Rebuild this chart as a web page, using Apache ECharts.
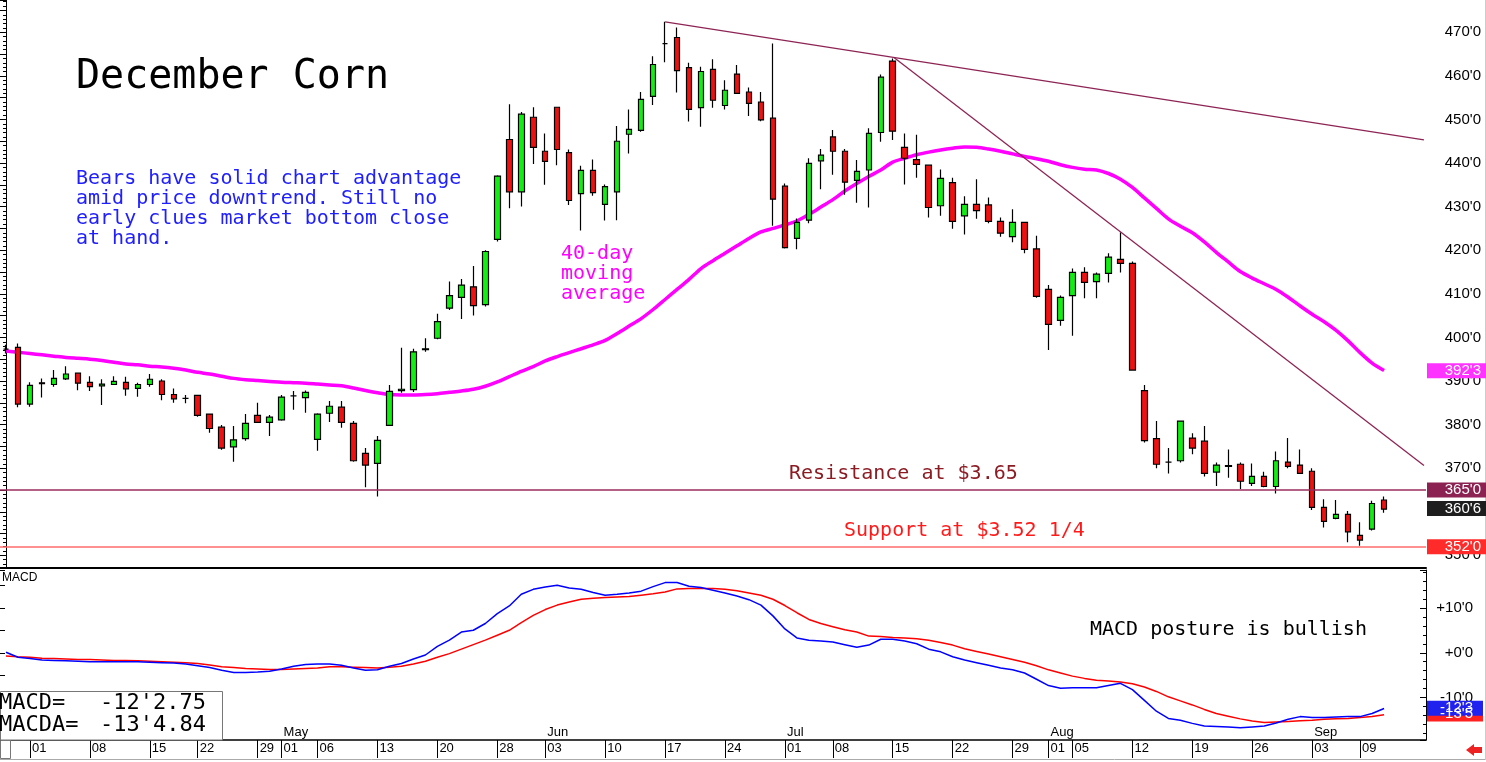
<!DOCTYPE html>
<html><head><meta charset="utf-8">
<script src="https://cdn.jsdelivr.net/npm/echarts@6/dist/echarts.min.js"></script>
<style>html,body{margin:0;padding:0;background:#fff;overflow:hidden}#c{width:1486px;height:762px}</style>
</head><body><div id="c"></div>
<script>
// ---------- DATA ----------
const DATES = ["03-27","03-28","04-01","04-02","04-03","04-04","04-05","04-08","04-09","04-10","04-11","04-12","04-15","04-16","04-17","04-18","04-22","04-23","04-24","04-25","04-26","04-29","04-30","05-01","05-02","05-03","05-06","05-07","05-08","05-09","05-10","05-13","05-14","05-15","05-16","05-17","05-20","05-21","05-22","05-23","05-24","05-28","05-29","05-30","05-31","06-03","06-04","06-05","06-06","06-07","06-10","06-11","06-12","06-13","06-14","06-17","06-18","06-19","06-20","06-21","06-24","06-25","06-26","06-27","06-28","07-01","07-02","07-03","07-05","07-08","07-09","07-10","07-11","07-12","07-15","07-16","07-17","07-18","07-19","07-22","07-23","07-24","07-25","07-26","07-29","07-30","07-31","08-01","08-02","08-05","08-06","08-07","08-08","08-09","08-12","08-13","08-14","08-15","08-16","08-19","08-20","08-21","08-22","08-23","08-26","08-27","08-28","08-29","08-30","09-03","09-04","09-05","09-06","09-09","09-10","09-11"];
const EMPTY_SLOTS = ["~1","~2","~3"];
const TICK_DATES = ["04-01","04-08","04-15","04-22","04-29","05-01","05-06","05-13","05-20","05-28","06-03","06-10","06-17","06-24","07-01","07-08","07-15","07-22","07-29","08-01","08-05","08-12","08-19","08-26","09-03","09-09"];
const MONTH_LABELS = {"04-01":"Apr","05-01":"May","06-03":"Jun","07-01":"Jul","08-01":"Aug","09-03":"Sep"};

const OPEN  = [397.3,397.7,384.7,389.6,389.2,390.5,391.8,389.7,388.9,389.2,389.7,388.3,389.2,390.0,386.9,386.0,386.7,382.4,379.4,374.9,376.8,382.1,380.5,381.1,386.6,386.2,376.6,382.6,384.0,380.3,373.4,371.1,379.8,387.8,388.0,397.2,399.8,406.7,409.2,411.6,407.5,422.5,445.4,433.4,450.5,442.7,452.8,442.4,433.0,438.3,430.5,433.4,446.6,447.5,455.3,467.4,468.8,461.9,452.7,461.5,453.2,460.4,456.3,454.0,450.3,434.7,422.7,426.9,440.5,446.0,442.7,436.0,438.4,447.0,463.4,443.6,440.8,439.5,430.2,435.5,427.9,430.5,430.4,426.6,423.1,426.4,420.3,411.0,403.9,409.6,414.9,412.8,414.7,417.9,417.0,387.8,376.8,371.4,371.7,376.9,376.2,369.1,370.6,370.9,366.5,368.1,365.8,371.4,370.7,369.3,361.0,358.5,359.4,354.6,356.0,362.7];
const CLOSE = [397.3,384.7,389.0,389.4,390.6,391.6,389.5,388.7,389.3,389.9,388.2,389.2,390.4,386.9,385.9,386.0,382.1,379.1,374.6,376.5,380.3,380.5,381.7,386.3,386.6,387.4,382.4,384.2,380.5,371.7,370.7,376.4,387.6,388.1,396.7,397.4,403.6,409.6,412.0,407.3,419.7,437.0,433.4,451.2,443.6,440.4,443.1,431.4,438.3,433.2,434.6,445.0,447.7,454.6,462.6,467.4,461.2,452.3,461.0,454.4,456.7,456.0,453.7,449.9,431.7,420.6,426.4,439.9,441.8,442.7,435.6,438.1,446.8,459.7,447.3,441.1,439.7,429.8,436.5,426.6,430.5,429.1,426.6,423.9,426.4,420.2,409.4,403.0,409.2,414.9,412.6,414.5,418.4,417.0,392.5,376.3,370.9,371.4,380.8,374.6,368.8,370.7,370.4,367.0,368.1,365.8,371.7,370.4,368.8,361.0,357.8,359.4,355.4,353.5,361.9,360.6];
const LOW   = [396.3,384.0,384.1,386.2,388.7,390.2,387.9,387.7,384.5,389.1,386.6,386.4,388.7,385.6,385.0,384.9,381.8,378.1,374.2,371.5,376.3,380.5,377.4,380.9,383.4,382.7,374.0,380.6,379.3,371.5,365.6,363.5,379.8,387.3,387.5,396.7,399.6,406.3,404.2,405.0,407.1,422.0,429.6,430.0,439.8,435.0,439.5,430.4,424.5,432.5,426.8,426.9,442.2,447.2,453.3,463.1,456.2,449.5,448.3,452.7,452.3,456.0,450.8,449.6,425.6,420.4,420.2,426.2,434.0,437.3,432.7,430.9,429.8,444.9,445.3,435.1,436.6,427.5,427.9,424.9,423.6,427.2,426.2,423.1,421.8,419.3,409.1,397.1,402.7,400.4,409.0,409.0,412.6,414.9,392.4,375.9,370.0,368.8,371.3,373.2,368.1,365.9,367.8,365.2,365.9,365.6,364.2,370.0,368.7,360.4,356.4,358.3,353.0,352.2,355.7,359.8];
const HIGH  = [398.3,398.6,389.7,390.6,392.5,393.4,391.9,391.1,390.4,391.1,391.0,389.6,391.6,390.4,388.3,386.8,386.8,382.4,379.9,379.7,382.4,385.0,382.2,386.8,387.7,387.8,382.6,385.4,385.4,380.8,374.6,377.4,389.1,397.6,397.4,399.8,405.4,412.8,413.4,416.4,420.0,437.2,453.5,451.7,452.8,446.8,452.8,443.1,439.4,440.8,435.1,448.5,452.3,456.3,464.5,472.4,471.1,463.0,462.1,463.8,459.0,462.5,457.3,456.3,467.4,435.3,427.3,441.1,443.2,447.6,443.2,440.7,448.0,460.3,464.0,446.8,446.5,439.5,438.5,436.6,432.4,436.3,432.1,427.5,429.4,426.5,423.3,412.0,409.6,415.8,416.1,414.9,419.3,424.1,417.4,389.1,380.8,374.6,380.9,378.0,379.7,371.3,374.3,371.3,371.1,369.2,373.8,376.9,374.3,370.0,362.9,362.7,360.2,357.6,362.5,363.5];

const MA40 = [396.9,396.6,396.3,396.0,395.7,395.4,395.2,395.0,394.7,394.3,
393.9,393.7,393.4,393.2,392.9,392.5,392.0,391.6,391.1,390.6,
390.3,390.1,389.9,389.7,389.6,389.5,389.3,389.1,388.9,388.4,
387.8,387.3,386.9,386.8,386.8,386.9,387.1,387.4,387.7,388.1,
388.8,389.8,391.0,392.2,393.3,394.6,395.6,396.5,397.4,398.3,
399.3,400.9,402.6,404.3,406.4,408.7,411.0,413.3,415.8,417.6,
419.3,421.0,422.7,424.2,425.0,425.8,426.7,428.2,429.9,431.6,
433.6,435.3,436.9,438.4,440.2,441.1,441.9,442.5,443.0,443.4,
443.7,443.6,443.2,442.7,442.1,441.5,441.0,440.4,439.6,439.0,
438.6,438.4,437.6,436.3,434.4,432.0,429.6,427.2,425.5,424.0,
421.9,419.5,417.3,415.1,413.6,412.3,411.0,409.2,407.2,405.3,
403.6,401.6,399.2,396.5,394.1,392.4];

const MACD = [0.1,-1.0,-1.3,-1.6,-1.7,-1.8,-1.9,-2.0,-2.0,-2.0,
-2.0,-2.0,-2.1,-2.2,-2.3,-2.5,-2.9,-3.3,-3.9,-4.4,
-4.4,-4.3,-4.1,-3.6,-3.0,-2.6,-2.5,-2.5,-2.8,-3.4,
-3.9,-3.8,-3.0,-2.4,-1.4,-0.5,1.4,2.8,4.6,5.0,
6.5,8.7,10.4,13.0,14.1,14.6,15.0,14.4,14.1,13.4,
12.8,13.0,13.3,13.7,14.7,15.6,15.6,14.8,14.5,13.9,
13.3,12.6,11.8,10.6,8.2,5.3,3.3,2.8,2.6,2.4,
1.8,1.2,1.7,3.0,3.0,2.6,2.0,0.8,0.2,-0.9,
-1.6,-2.2,-2.8,-3.4,-3.8,-4.5,-5.9,-7.3,-7.9,-7.8,
-7.8,-7.8,-7.3,-6.8,-8.2,-10.6,-13.0,-14.6,-15.0,-15.7,
-16.3,-16.4,-16.5,-16.7,-16.5,-16.3,-15.6,-14.8,-14.2,-14.4,
-14.4,-14.3,-14.2,-14.2,-13.5,-12.4];

const SIGNAL = [-0.7,-0.9,-1.0,-1.2,-1.3,-1.4,-1.5,-1.5,-1.6,-1.7,
-1.7,-1.8,-1.9,-2.0,-2.1,-2.2,-2.4,-2.7,-3.1,-3.3,
-3.5,-3.6,-3.7,-3.7,-3.6,-3.5,-3.4,-3.1,-3.1,-3.2,
-3.3,-3.4,-3.2,-3.0,-2.5,-1.9,-1.0,-0.2,0.8,1.8,
2.8,3.9,5.0,6.7,8.3,9.6,10.6,11.3,11.9,12.1,
12.3,12.4,12.5,12.8,13.1,13.5,14.2,14.3,14.3,14.3,
14.1,13.8,13.3,12.8,11.9,10.5,8.9,7.4,6.5,5.8,
5.1,4.6,3.7,3.6,3.4,3.3,3.1,2.8,2.3,1.7,
0.9,0.3,-0.3,-0.9,-1.5,-2.1,-2.9,-3.8,-4.5,-5.2,
-5.7,-6.1,-6.3,-6.5,-6.9,-7.6,-8.6,-9.8,-10.7,-11.6,
-12.6,-13.5,-14.1,-14.7,-15.2,-15.5,-15.4,-15.3,-15.1,-15.0,
-14.8,-14.7,-14.6,-14.4,-14.2,-13.8];

const TREND_A = [[55, 472.4], [118.33, 445.3]];
const TREND_B = [[74.1, 464.2], [118.33, 370.6]];
const RESISTANCE = 365;
const SUPPORT = 352;
const MA_LAST = 392.375, PRICE_LAST = 360.75, MACD_LAST = -12.34, SIGNAL_LAST = -13.6;
const PRICE_TAG_TEXT = ["392'3", "365'0", "360'6", "352'0"];
const MACD_TAG_TEXT = ["-13'5", "-12'3"];
const MACD_READOUT = ["-12'2.75", "-13'4.84"];

// ---------- CHART ----------
const CATS = DATES.concat(EMPTY_SLOTS);
const TICK_SET = new Set(TICK_DATES);
const candleData = DATES.map((d, i) => [OPEN[i], CLOSE[i], LOW[i], HIGH[i]]);
const isMult = (v, m) => Math.abs(v - Math.round(v / m) * m) < 1e-6;
const fmtPrice = v => isMult(v, 10) ? Math.round(v) + "'0" : '';
const fmtMacd = v => isMult(v, 10) ? ((v >= 0 ? '+' : '') + Math.round(v) + "'0") : '';
const SANS = "'Liberation Sans', Arial, sans-serif";
const MONO = "'DejaVu Sans Mono', monospace";

const chart = echarts.init(document.getElementById('c'));
chart.setOption({
  animation: false,
  backgroundColor: '#ffffff',
  textStyle: {fontFamily: SANS},
  grid: [
    {left: -2, top: 0, width: 1428, height: 568},
    {left: -2, top: 570, width: 1428, height: 170}
  ],
  xAxis: [
    {type: 'category', gridIndex: 0, data: CATS, axisLine: {onZero: false, lineStyle: {color: '#000', width: 2}},
     axisTick: {show: false}, axisLabel: {show: false}, splitLine: {show: false}},
    {type: 'category', gridIndex: 1, data: CATS, position: 'bottom',
     axisLine: {onZero: false, lineStyle: {color: '#000', width: 1.5}},
     axisTick: {show: true, alignWithLabel: true, length: 18, interval: (i, v) => TICK_SET.has(v), lineStyle: {color: '#000', width: 1}},
     axisLabel: {interval: (i, v) => TICK_SET.has(v), formatter: v => v.slice(3), align: 'left', padding: [0, 0, 0, 2], margin: 2, fontSize: 13, color: '#000', fontFamily: SANS},
     splitLine: {show: false}},
    {type: 'value', gridIndex: 0, show: false, min: -0.5, max: 118.5},
    {type: 'category', gridIndex: 1, data: CATS, position: 'bottom',
     axisLine: {show: false, onZero: false}, axisTick: {show: false},
     axisLabel: {inside: true, interval: (i, v) => (v in MONTH_LABELS), formatter: v => MONTH_LABELS[v] || '', align: 'left', padding: [0, 0, 0, 2], margin: 1, fontSize: 13, color: '#000', fontFamily: SANS},
     splitLine: {show: false}}
  ],
  yAxis: [
    {type: 'value', gridIndex: 0, position: 'right', min: 347.1, max: 477.4, minInterval: 10, maxInterval: 10,
     splitLine: {show: false}, axisLine: {show: true, lineStyle: {color: '#000', width: 1}},
     axisTick: {show: true, inside: true, length: 6, lineStyle: {color: '#000'}},
     minorTick: {show: true, splitNumber: 10, length: 3, lineStyle: {color: '#000'}},
     axisLabel: {formatter: fmtPrice, align: 'right', margin: 55, fontSize: 15, color: '#000', fontFamily: SANS}},
    {type: 'value', gridIndex: 0, position: 'left', min: 347.1, max: 477.4, minInterval: 5, maxInterval: 5,
     splitLine: {show: false}, axisLine: {show: false},
     axisTick: {show: true, inside: true, length: 5, lineStyle: {color: '#000'}}, axisLabel: {show: false}},
    {type: 'value', gridIndex: 1, position: 'right', min: -19.4, max: 18.4, minInterval: 10, maxInterval: 10,
     splitLine: {show: false}, axisLine: {show: true, lineStyle: {color: '#000', width: 1}},
     axisTick: {show: true, inside: true, length: 6, lineStyle: {color: '#000'}},
     minorTick: {show: true, splitNumber: 5, length: 3, lineStyle: {color: '#000'}},
     axisLabel: {formatter: fmtMacd, align: 'right', margin: 47, fontSize: 15, color: '#000', fontFamily: SANS}},
    {type: 'value', gridIndex: 1, position: 'left', min: -19.4, max: 18.4, minInterval: 5, maxInterval: 5,
     splitLine: {show: false}, axisLine: {show: false},
     axisTick: {show: true, inside: true, length: 5, lineStyle: {color: '#000'}}, axisLabel: {show: false}}
  ],
  series: [
    {type: 'line', xAxisIndex: 0, yAxisIndex: 0, data: MA40, symbol: 'none', smooth: 0.3,
     lineStyle: {color: '#ff00ff', width: 3.5}, z: 2},
    {type: 'candlestick', xAxisIndex: 0, yAxisIndex: 0, data: candleData, barWidth: 6,
     itemStyle: {color: '#11ee11', color0: '#f01010', borderColor: '#000', borderColor0: '#000', borderColorDoji: '#000', borderWidth: 1.2},
     z: 3,
     markLine: {silent: true, symbol: ['none', 'none'], label: {show: false}, animation: false,
       data: [
         {yAxis: RESISTANCE, lineStyle: {color: '#9b2d5e', width: 1.5, type: 'solid'}},
         {yAxis: SUPPORT, lineStyle: {color: '#ff6b6b', width: 1.5, type: 'solid'}}
       ]}},
    {type: 'line', xAxisIndex: 2, yAxisIndex: 0, data: TREND_A, symbol: 'none', lineStyle: {color: '#8e2454', width: 1.3}, z: 4},
    {type: 'line', xAxisIndex: 2, yAxisIndex: 0, data: TREND_B, symbol: 'none', lineStyle: {color: '#8e2454', width: 1.3}, z: 4},
    {type: 'line', xAxisIndex: 1, yAxisIndex: 2, data: SIGNAL, symbol: 'none', lineStyle: {color: '#ff0000', width: 1.5}, z: 3},
    {type: 'line', xAxisIndex: 1, yAxisIndex: 2, data: MACD, symbol: 'none', lineStyle: {color: '#0000ff', width: 1.5}, z: 4}
  ]
});

// ---------- ANNOTATIONS ----------
const py = v => chart.convertToPixel({yAxisIndex: 0}, v);
const my = v => chart.convertToPixel({yAxisIndex: 2}, v);
const G = [];
function txt(x, y, text, font, fill, align, valign, lineHeight) {
  const st = {x: x, y: y, text: text, font: font, fill: fill, textAlign: align || 'left', textVerticalAlign: valign || 'middle'};
  if (lineHeight) st.lineHeight = lineHeight;
  G.push({type: 'text', z: 100, silent: true, style: st});
}
function rect(x, y, w, h, fill, stroke) {
  G.push({type: 'rect', z: 99, silent: true, shape: {x: x, y: y, width: w, height: h},
    style: {fill: fill || 'none', stroke: stroke || 'none', lineWidth: 1}});
}
// title & comments
txt(76, 77.5, 'December Corn', '40px ' + MONO, '#000');
txt(76, 169, 'Bears have solid chart advantage\namid price downtrend. Still no\nearly clues market bottom close\nat hand.', '20px ' + MONO, '#2020ff', 'left', 'top', 20);
txt(561, 243.5, '40-day\nmoving\naverage', '20px ' + MONO, '#ff00ff', 'left', 'top', 20);
txt(789, 474, 'Resistance at $3.65', '20px ' + MONO, '#8c1c24');
txt(844, 531, 'Support at $3.52 1/4', '20px ' + MONO, '#ff1a1a');
txt(1090, 630, 'MACD posture is bullish', '20px ' + MONO, '#000');
txt(2, 578, 'MACD', '12px ' + SANS, '#000');
// readout box
rect(0.5, 691.5, 222, 48.5, '#fff', '#777');
rect(0.5, 740.5, 10, 18, 'none', '#777');
txt(-1, 703.5, 'MACD=', '22px ' + MONO, '#000');
txt(100, 703.5, MACD_READOUT[0], '22px ' + MONO, '#000');
txt(-1, 725.5, 'MACDA=', '22px ' + MONO, '#000');
txt(100, 725.5, MACD_READOUT[1], '22px ' + MONO, '#000');
// price tags
const priceTagVals = [MA_LAST, RESISTANCE, PRICE_LAST, SUPPORT];
const priceTagCols = ['#ff33ff', '#8b2252', '#1e1e1e', '#ff2a2a'];
priceTagVals.forEach((v, i) => {
  const y = py(v);
  rect(1427, y - 7.5, 59, 15, priceTagCols[i]);
  txt(1481, y, PRICE_TAG_TEXT[i], '15px ' + SANS, '#fff', 'right');
});
const macdTagVals = [SIGNAL_LAST, MACD_LAST];
const macdTagCols = ['#ff2020', '#2222ee'];
macdTagVals.forEach((v, i) => {
  const y = my(v);
  rect(1427, y - 7.5, 56, 15, macdTagCols[i]);
  txt(1473, y, MACD_TAG_TEXT[i], '15px ' + SANS, '#fff', 'right');
});
// frame bits
G.push({type: 'line', z: 98, silent: true, shape: {x1: 0, y1: 759.5, x2: 1486, y2: 759.5}, style: {stroke: '#aaa', lineWidth: 1}});
G.push({type: 'line', z: 98, silent: true, shape: {x1: 1485.5, y1: 0, x2: 1485.5, y2: 760}, style: {stroke: '#ccc', lineWidth: 1}});
G.push({type: 'polygon', z: 100, silent: true,
  shape: {points: [[1466, 750], [1474, 744], [1474, 747], [1482, 747], [1482, 753], [1474, 753], [1474, 756]]},
  style: {fill: '#ee2222'}});
chart.setOption({graphic: {elements: G}});
</script>
</body></html>
